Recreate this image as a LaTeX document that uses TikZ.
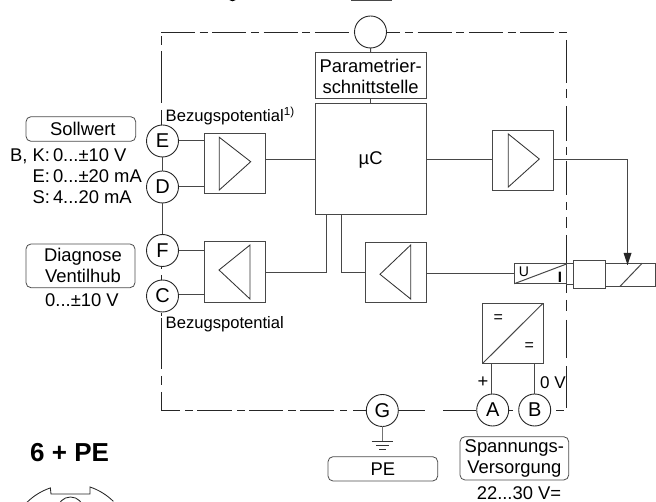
\documentclass[tikz,border=0pt]{standalone}
\usepackage{fontspec}
\setmainfont{Liberation Sans}
\usetikzlibrary{arrows.meta}
\tikzset{
  wire/.style={draw=black!72,line width=1.0pt},
  thinwire/.style={draw=black!80,line width=0.8pt},
  frameline/.style={draw=black!85,line width=0.85pt},
  framedash/.style={frameline,dash pattern=on 34pt off 4.7pt on 8pt off 4.6pt},
  pin/.style={circle,draw=black!85,line width=0.9pt,fill=white,minimum size=32pt,inner sep=0pt,outer sep=0pt,font=\fontsize{20}{20}\selectfont},
  blockbox/.style={rectangle,draw=black!72,line width=1.0pt,fill=white,inner sep=0pt,outer sep=0pt},
  labelbox/.style={rectangle,rounded corners=5pt,draw=black!70,line width=0.8pt,inner sep=0pt,outer sep=0pt,font=\fontsize{18.4}{21}\selectfont,align=center},
  lab/.style={inner sep=0pt,outer sep=0pt,font=\fontsize{18.4}{21}\selectfont},
  smalllab/.style={inner sep=0pt,outer sep=0pt,font=\fontsize{16.6}{18}\selectfont},
  amptri/.style={draw=black!80,line width=0.85pt,line join=miter},
}
\begin{document}
\begin{tikzpicture}[x=1pt,y=-1pt]
\useasboundingbox (0,0) rectangle (656,502);
\clip (0,0) rectangle (656,502);
% clipped remains at the top edge
\draw[wire] (351,-6) rectangle (391,1);
\draw[line width=1.2pt] (229.5,-0.5) .. controls (231,1) and (234,1) .. (235.5,-0.5);
% frame
\draw[framedash] (161,32.5) -- (566.5,32.5);
\foreach \a/\b in {40/83,89/98,106/141,147/155,161/195,202/210,217/228,235/293,300/311,320/358,366/408}
  \draw[frameline] (566.5,\a) -- (566.5,\b);
\foreach \a/\b in {161/180,185/193,197/232,237/245,249/283,288/296,300/334,340/347,353/366,398/425,443/476,509/513,556/564}
  \draw[frameline] (\a,410) -- (\b,410);
\foreach \a/\b in {36/45,51/103,110/125,266/269,275/280,313/316,318/369,376/385,392/410}
  \draw[frameline] (161,\a) -- (161,\b);
% pins
\node[pin] (T) at (370.5,32) {};
\node[pin] (E) at (162.5,141) {E};
\node[pin] (D) at (162.5,187) {D};
\node[pin] (F) at (162.5,250.5) {F};
\node[pin] (C) at (162.5,296) {C};
\node[pin] (G) at (382.3,410.5) {G};
\node[pin] (A) at (492.7,410) {A};
\node[pin] (B) at (534.7,410) {B};
% blocks
\node[blockbox,minimum width=111.3pt,minimum height=46pt,align=center,font=\fontsize{18.4}{21}\selectfont] (param) at (370.65,76) {Parametrier-\\schnittstelle};
\node[blockbox,minimum width=111.3pt,minimum height=111pt,font=\fontsize{18.4}{18}\selectfont] (uC) at (370.65,159.5) {µC};
\node[blockbox,minimum width=61pt,minimum height=60.3pt] (ampA) at (234.5,163.85) {};
\node[blockbox,minimum width=61pt,minimum height=60.5pt] (ampR) at (523.2,160.75) {};
\node[blockbox,minimum width=61pt,minimum height=60.3pt] (ampB) at (234.5,272.15) {};
\node[blockbox,minimum width=61pt,minimum height=60.5pt] (ampC) at (395.8,272.35) {};
\node[blockbox,minimum width=60.3pt,minimum height=60pt] (conv) at (512.85,333.3) {};
\node[blockbox,minimum width=52.2pt,minimum height=19.7pt] (sens) at (540.4,273.85) {};
\node[blockbox,minimum width=6.6pt,minimum height=20.5pt] (neck) at (569.8,273.9) {};
\node[blockbox,minimum width=32.7pt,minimum height=27.6pt] (core) at (589.4,274.5) {};
\node[blockbox,minimum width=49.3pt,minimum height=23.4pt] (coil) at (630.35,275) {};
% triangles
\draw[amptri] (219.3,137.3) -- (219.3,190) -- (250.7,161.7) -- cycle;
\draw[amptri] (508.3,134) -- (508.3,187) -- (539.3,159) -- cycle;
\draw[amptri] (250,245) -- (250,299) -- (219,270) -- cycle;
\draw[amptri] (410.7,245) -- (410.7,299) -- (380,274.3) -- cycle;
% symbols inside blocks
\draw[wire] (conv.south west) -- (conv.north east);
\draw[wire] (sens.south west) -- (sens.north east);
\draw[wire] (coil.south west) ++(14,0) -- ++(22.4,-23.4);
\node[inner sep=0pt,font=\fontsize{16}{16}\selectfont] (eq1) at (498.3,318.5) {=};
\node[inner sep=0pt,font=\fontsize{16}{16}\selectfont] (eq2) at (529.3,347) {=};
\node[inner sep=0pt,font=\fontsize{14}{14}\selectfont] (u) at (524,271.5) {U};
\node[inner sep=0pt,font=\fontsize{15}{15}\selectfont\bfseries] (i) at (560,277.5) {I};
% connectors
\draw[wire] (E) -- (D);
\draw[wire] (D) -- (F);
\draw[wire] (T) -- (param);
\draw[wire] (param) -- (uC);
\draw[wire] (E) -- (ampA.west |- E);
\draw[wire] (D) -- (ampA.west |- D);
\draw[wire] (F) -- (ampB.west |- F);
\draw[wire] (C.east |- 0,294.5) -- (ampB.west |- 0,294.5);
\draw[wire] (ampA.east |- uC.west) -- (uC.west);
\draw[wire] (uC.east) -- (ampR.west |- uC.east);
\coordinate (uCl) at (326.7,215);
\coordinate (uCr) at (341,215);
\coordinate (tip) at (627.5,265);
\draw[wire] (ampB.east) -| (uCl);
\draw[wire] (uCr) |- (ampC.west);
\draw[wire] (ampC.east |- sens.west) -- (sens.west);
\draw[wire] (ampR.east |- uC.east) -| (tip);
\fill[black!85] (tip) -- ++(-4,-12) -- ++(8,0) -- cycle;
\draw[wire] (A.north |- conv.south) ++(-1.7,0) -- ++(0,31);
\draw[wire] (B.north |- conv.south) -- (B.north);
% earth
\coordinate (gnd) at (382.3,441);
\draw[wire,draw=black!55] (G) -- (gnd);
\draw[thinwire] (371.7,441) -- (393.3,441);
\draw[thinwire] (376,445) -- (389,445);
\draw[thinwire] (379,449) -- (386,449);
% label boxes
\node[labelbox,minimum width=109.7pt,minimum height=24.6pt] (soll) at (80.85,129) {\hspace{4pt}Sollwert};
\node[labelbox,minimum width=109pt,minimum height=43.7pt] (diag) at (80.5,265.85) {\hspace{5pt}Diagnose\\\hspace{5pt}Ventilhub};
\node[labelbox,minimum width=109.7pt,minimum height=24.3pt] (pe) at (382.85,468.85) {PE};
\node[labelbox,minimum width=108.7pt,minimum height=43.3pt] (sp) at (514.35,458.35) {Spannungs-\\Versorgung};
% free texts
\node[smalllab,anchor=base west] (bz1) at (165.7,122) {Bezugspotential\textsuperscript{1)}};
\node[smalllab,anchor=base west] (bz2) at (165.7,329) {Bezugspotential};
\node[lab,anchor=base east] (l1) at (50,161.5) {B, K:};
\node[lab,anchor=base west] (v1) at (53,161.5) {0...±10 V};
\node[lab,anchor=base east] (l2) at (50,183) {E:};
\node[lab,anchor=base west] (v2) at (53,183) {0...±20 mA};
\node[lab,anchor=base east] (l3) at (50,204) {S:};
\node[lab,anchor=base west] (v3) at (53,204) {4...20 mA};
\node[lab,anchor=base] (d1) at (82,306.7) {0...±10 V};
\node[lab,anchor=base] (s1) at (519,499) {22...30 V=};
\node[lab,anchor=base] (plus) at (483,388) {+};
\node[inner sep=0pt,anchor=base,font=\fontsize{17}{17}\selectfont] (zero) at (553,389) {0 V};
\node[inner sep=0pt,anchor=base west,font=\fontsize{26}{26}\selectfont\bfseries] (six) at (30,461.7) {6 + PE};
% connector outline at the bottom
\draw[frameline] (27,502.3) arc[start angle=225.4,end angle=251.4,radius=61] -- (51,494) -- (90,494) -- (90,487) arc[start angle=288.6,end angle=314.6,radius=61];
\draw[frameline] (70.5,510) circle[radius=13];
\end{tikzpicture}
\end{document}
